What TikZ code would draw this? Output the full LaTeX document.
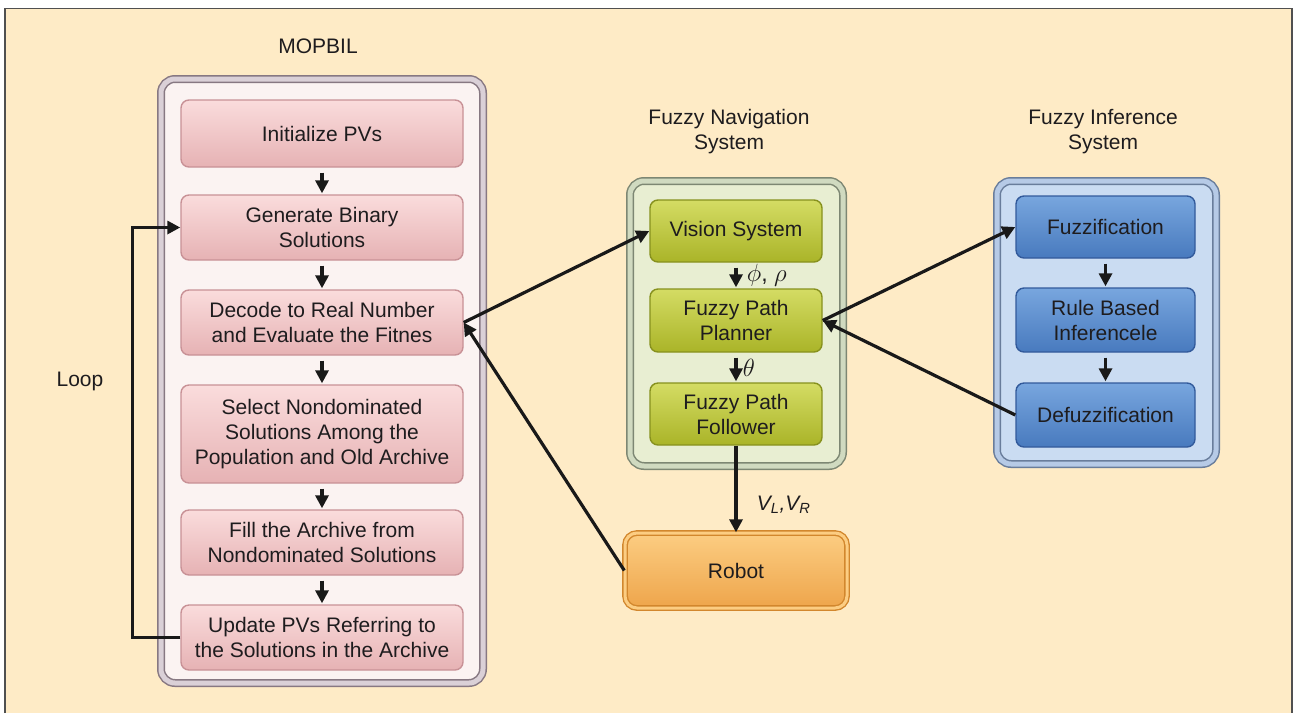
\documentclass[tikz,border=0pt]{standalone}
\usepackage{fontspec}
\setmainfont{Liberation Sans}
\usetikzlibrary{arrows.meta}
\definecolor{bg}{RGB}{254,235,198}
\definecolor{frame}{RGB}{80,80,80}
\definecolor{txt}{RGB}{30,28,30}
\definecolor{arrc}{RGB}{25,25,25}
% pink
\definecolor{pinkT}{RGB}{250,220,220}
\definecolor{pinkM}{RGB}{244,198,198}
\definecolor{pinkB}{RGB}{230,178,180}
\definecolor{pinkE}{RGB}{200,145,150}
\definecolor{mopIn}{RGB}{251,243,242}
\definecolor{mopD}{RGB}{135,120,130}
\definecolor{mopL}{RGB}{218,208,215}
% green
\definecolor{grnT}{RGB}{212,220,100}
\definecolor{grnM}{RGB}{194,204,60}
\definecolor{grnB}{RGB}{170,180,40}
\definecolor{grnE}{RGB}{135,145,30}
\definecolor{grnIn}{RGB}{232,238,210}
\definecolor{grnD}{RGB}{125,135,115}
\definecolor{grnL}{RGB}{208,218,192}
% blue
\definecolor{bluT}{RGB}{120,166,222}
\definecolor{bluM}{RGB}{92,142,206}
\definecolor{bluB}{RGB}{72,122,190}
\definecolor{bluE}{RGB}{50,90,155}
\definecolor{bluIn}{RGB}{202,220,242}
\definecolor{bluD}{RGB}{105,125,155}
\definecolor{bluL}{RGB}{182,202,230}
% orange
\definecolor{orT}{RGB}{252,205,130}
\definecolor{orM}{RGB}{248,185,95}
\definecolor{orB}{RGB}{238,165,75}
\definecolor{orE}{RGB}{210,135,45}
\begin{document}
\begin{tikzpicture}[x=1pt,y=-1pt,
  every node/.style={font=\fontsize{21}{25}\selectfont, text=txt},
  bx/.style={line width=1.4pt, rounded corners=8pt, align=center, inner sep=0pt},
  pbox/.style={bx, draw=pinkE, top color=pinkT, middle color=pinkM, bottom color=pinkB, minimum width=282pt},
  gbox/.style={bx, draw=grnE, top color=grnT, middle color=grnM, bottom color=grnB, minimum width=172pt},
  bbox/.style={bx, draw=bluE, top color=bluT, middle color=bluM, bottom color=bluB, minimum width=179pt},
  obox/.style={bx, draw=orE, top color=orT, middle color=orM, bottom color=orB, minimum width=222pt, minimum height=75pt, rounded corners=12pt, double=orT, double distance=3pt},
  cont/.style={line width=1.5pt, rounded corners=14pt, double distance=5pt},
  arr/.style={line width=3.2pt, draw=arrc, -{Triangle[length=13pt,width=13pt]}},
  ttl/.style={align=center}
]
\useasboundingbox (0,0) rectangle (1297,713);
\fill[white] (0,0) rectangle (1297,713);
\fill[bg] (5,8.5) rectangle (1292,713);
\draw[frame, line width=1.5pt] (5,713) -- (5,8.5) -- (1292,8.5) -- (1292,713);

% containers
\draw[cont, draw=mopD, double=mopL, fill=mopIn] (161,79) rectangle (483,683);
\draw[cont, draw=grnD, double=grnL, fill=grnIn] (630,181) rectangle (843,466);
\draw[cont, draw=bluD, double=bluL, fill=bluIn] (997,181) rectangle (1216,464);

% titles
\node[ttl] (tmop) at (318,46) {MOPBIL};
\node[ttl] (tfns) at (729,131.5) {Fuzzy Navigation\\System};
\node[ttl] (tfis) at (1103,131.5) {Fuzzy Inference\\System};
\node (loop) at (80,381) {Loop};

% MOPBIL boxes
\node[pbox, minimum height=67pt] (u1) at (322,133.5) {Initialize PVs};
\node[pbox, minimum height=65pt] (u2) at (322,227.5) {Generate Binary\\Solutions};
\node[pbox, minimum height=65pt] (u3) at (322,322.5) {Decode to Real Number\\and Evaluate the Fitnes};
\node[pbox, minimum height=98pt] (u4) at (322,434) {Select Nondominated\\Solutions Among the\\Population and Old Archive};
\node[pbox, minimum height=65pt] (u5) at (322,542.5) {Fill the Archive from\\Nondominated Solutions};
\node[pbox, minimum height=65pt] (u6) at (322,637.5) {Update PVs Referring to\\the Solutions in the Archive};

% navigation boxes
\node[gbox, minimum height=62pt] (vis) at (736,231) {Vision System};
\node[gbox, minimum height=63pt] (plan) at (736,320.5) {Fuzzy Path\\Planner};
\node[gbox, minimum height=62pt] (fol) at (736,414) {Fuzzy Path\\Follower};

% inference boxes
\node[bbox, minimum height=62pt] (fuz) at (1105.5,227) {Fuzzification};
\node[bbox, minimum height=64pt] (rule) at (1105.5,320) {Rule Based\\Inferencele};
\node[bbox, minimum height=64pt] (def) at (1105.5,415) {Defuzzification};

% robot
\node[obox] (rob) at (736,570.5) {Robot};

% vertical arrows
\foreach \a/\b in {u1/u2,u2/u3,u3/u4,u4/u5,u5/u6,fuz/rule,rule/def}
  \draw[arr, shorten <=5pt, shorten >=1pt] (\a.south) -- (\b.north);
\draw[arr, shorten <=5pt, shorten >=1pt] (vis.south) -- node[right=6pt, font=\fontsize{23}{25}\selectfont] {$\phi$, $\rho$} (plan.north);
\draw[arr, shorten <=5pt, shorten >=1pt] (plan.south) -- node[right=2pt, font=\fontsize{23}{25}\selectfont] {$\theta$} (fol.north);
\draw[arr] (fol.south) -- node[pos=0.68, right=16pt] {\itshape V\textsubscript{L},V\textsubscript{R}} (rob.north);

% loop
\draw[arr] (u6.west) -- ++(-48,0) |- (u2.west);

% cross connections
\draw[arr] (u3.east) -- (vis.west);
\draw[arr] (rob.west) -- (u3.east);
\draw[arr] (plan.east) -- (fuz.west);
\draw[arr] (def.west) -- (plan.east);
\end{tikzpicture}
\end{document}
